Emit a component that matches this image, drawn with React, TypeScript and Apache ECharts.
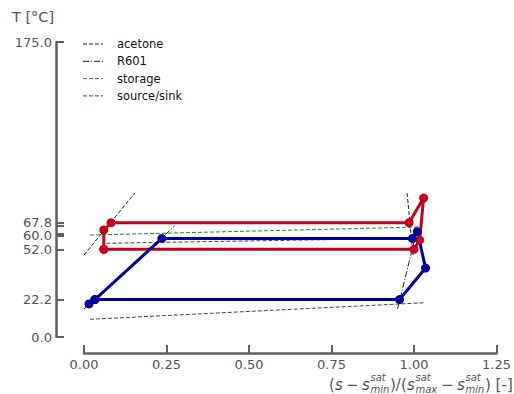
import React, { useEffect, useRef } from "react";
import * as echarts from "echarts";

// ---- data ----
const xTickStep = 0.25;
const xMin = 0;
const xMax = 1.25;
const yMin = 0;
const yMax = 175;
const yLabelValues = [0.0, 22.2, 52.0, 60.0, 67.8, 175.0];
const yTickValues = [0.0, 22.2, 52.0, 60.0, 61.3, 65.8, 67.8, 175.0];

const legendNames = ["acetone", "R601", "storage", "source/sink"];

const acetoneLiquid = [[0.0, 48.6], [0.154, 85.4]];
const acetoneVapor = [[0.979, 85.4], [0.997, 48.6]];
const r601Liquid = [[0.0, 16.6], [0.275, 65.9]];
const r601Vapor = [[0.95, 16.6], [1.012, 65.9]];
const storageLine = [[0.018, 60.5], [1.026, 65.3]];
const sourceSinkUpper = [[0.068, 55.6], [1.0, 58.6]];
const sourceSinkLower = [[0.018, 10.5], [1.03, 20.3]];

const heatPumpCycle = [
  [0.06, 52.0], [0.06, 63.5], [0.082, 67.8], [0.985, 67.8],
  [1.029, 82.4], [1.017, 57.5], [1.0, 52.0], [0.06, 52.0],
];
const orcCycle = [
  [0.015, 19.6], [0.033, 22.2], [0.956, 22.2], [1.035, 40.9],
  [1.01, 62.5], [0.995, 58.5], [0.236, 58.5], [0.033, 22.2],
];

const FONT = "DejaVu Sans";
const AXIS_COLOR = "#606060";
const LABEL_COLOR = "#555555";
const BLACK_LINE = "#222222";
const GREEN_LINE = "#1a8a1a";
const SLATE_LINE = "#2f4f4f";
const DASHED = [4, 2];
const DASH_DOT = [6, 2, 1, 2];
const legendStyles = [
  { color: BLACK_LINE, dash: DASHED },
  { color: BLACK_LINE, dash: DASH_DOT },
  { color: GREEN_LINE, dash: DASHED },
  { color: SLATE_LINE, dash: DASHED },
];

function thin(name: string, data: number[][], color: string, type: any) {
  return {
    type: "line",
    name,
    data,
    symbol: "none",
    z: 2,
    lineStyle: { color, width: 1, type },
    itemStyle: { color },
  };
}

function cycle(name: string, data: number[][], color: string) {
  return {
    type: "line",
    name,
    data,
    symbol: "circle",
    symbolSize: 9,
    z: 3,
    lineStyle: { color, width: 3 },
    itemStyle: { color },
  };
}

function legendPieces() {
  const items: any[] = [];
  legendNames.forEach((name, i) => {
    const y = 44 + i * 17.3;
    const st = legendStyles[i];
    items.push({
      type: "line",
      shape: { x1: 83, y1: y, x2: 103, y2: y },
      style: { stroke: st.color, lineWidth: 1, lineDash: st.dash },
    });
    items.push({
      type: "text",
      x: 117,
      y,
      style: {
        text: name,
        fill: "#111111",
        font: `11.5px "${FONT}"`,
        align: "left",
        verticalAlign: "middle",
      },
    });
  });
  return items;
}

function titlePieces() {
  const mainY = 384.5;
  const supY = 377;
  const subY = 389;
  const items: any[] = [];
  const t = (x: number, y: number, text: string, size: number, italic: boolean) =>
    items.push({
      type: "text",
      x,
      y,
      style: {
        text,
        fill: LABEL_COLOR,
        font: `${italic ? "italic " : ""}${size}px "${FONT}"`,
        align: "left",
        verticalAlign: "middle",
      },
    });
  const M = 15;
  const S = 10;
  t(329, mainY, "(", M, false);
  t(335, mainY, "s", M, true);
  t(346, mainY, "−", M, false);
  t(362, mainY, "s", M, true);
  t(370.5, supY, "sat", S, true);
  t(370.5, subY, "min", S, true);
  t(390, mainY, ")/(", M, false);
  t(407, mainY, "s", M, true);
  t(415.5, supY, "sat", S, true);
  t(415.5, subY, "max", S, true);
  t(441, mainY, "−", M, false);
  t(457, mainY, "s", M, true);
  t(465.5, supY, "sat", S, true);
  t(465.5, subY, "min", S, true);
  t(485, mainY, ") [-]", M, false);
  return items;
}

export default function App() {
  const ref = useRef<HTMLDivElement>(null);
  useEffect(() => {
    if (!ref.current) return;
    const chart = echarts.init(ref.current, null, { renderer: "svg" });
    chart.setOption({
      animation: false,
      backgroundColor: "#ffffff",
      textStyle: { fontFamily: FONT },
      grid: { left: 84, right: 17, top: 42, bottom: 57, containLabel: false },
      xAxis: {
        type: "value",
        min: xMin,
        max: xMax,
        interval: xTickStep,
        offset: 16,
        axisLine: { show: true, onZero: false, lineStyle: { color: AXIS_COLOR, width: 2.5 } },
        axisTick: { show: true, inside: true, length: 8, lineStyle: { color: AXIS_COLOR, width: 2 } },
        axisLabel: {
          formatter: (v: number) => v.toFixed(2),
          fontSize: 13,
          color: LABEL_COLOR,
          fontFamily: FONT,
          margin: 5,
        },
        splitLine: { show: false },
      },
      yAxis: {
        type: "value",
        min: yMin,
        max: yMax,
        offset: 28,
        axisLine: { show: true, onZero: false, lineStyle: { color: AXIS_COLOR, width: 2.5 } },
        axisTick: {
          show: true,
          inside: true,
          length: 8,
          customValues: yTickValues,
          lineStyle: { color: AXIS_COLOR, width: 2 },
        },
        axisLabel: {
          customValues: yLabelValues,
          formatter: (v: number) => v.toFixed(1),
          fontSize: 13,
          color: LABEL_COLOR,
          fontFamily: FONT,
          margin: 4,
        },
        splitLine: { show: false },
      },
      graphic: [
        {
          type: "text",
          x: 12,
          y: 17,
          style: {
            text: "T [°C]",
            fill: LABEL_COLOR,
            font: `14.5px "${FONT}"`,
            align: "left",
            verticalAlign: "middle",
          },
        },
        ...legendPieces(),
        ...titlePieces(),
      ],
      series: [
        thin("acetone", acetoneLiquid, BLACK_LINE, DASHED),
        thin("acetone", acetoneVapor, BLACK_LINE, DASHED),
        thin("R601", r601Liquid, BLACK_LINE, DASH_DOT),
        thin("R601", r601Vapor, BLACK_LINE, DASH_DOT),
        thin("storage", storageLine, GREEN_LINE, DASHED),
        thin("source/sink", sourceSinkUpper, SLATE_LINE, DASHED),
        thin("source/sink", sourceSinkLower, SLATE_LINE, DASHED),
        cycle("heat pump", heatPumpCycle, "#c8001e"),
        cycle("ORC", orcCycle, "#00009c"),
      ],
    });
    return () => chart.dispose();
  }, []);
  return (
    <div
      ref={ref}
      style={{ position: "absolute", left: 0, top: 0, width: 514, height: 394 }}
    />
  );
}
